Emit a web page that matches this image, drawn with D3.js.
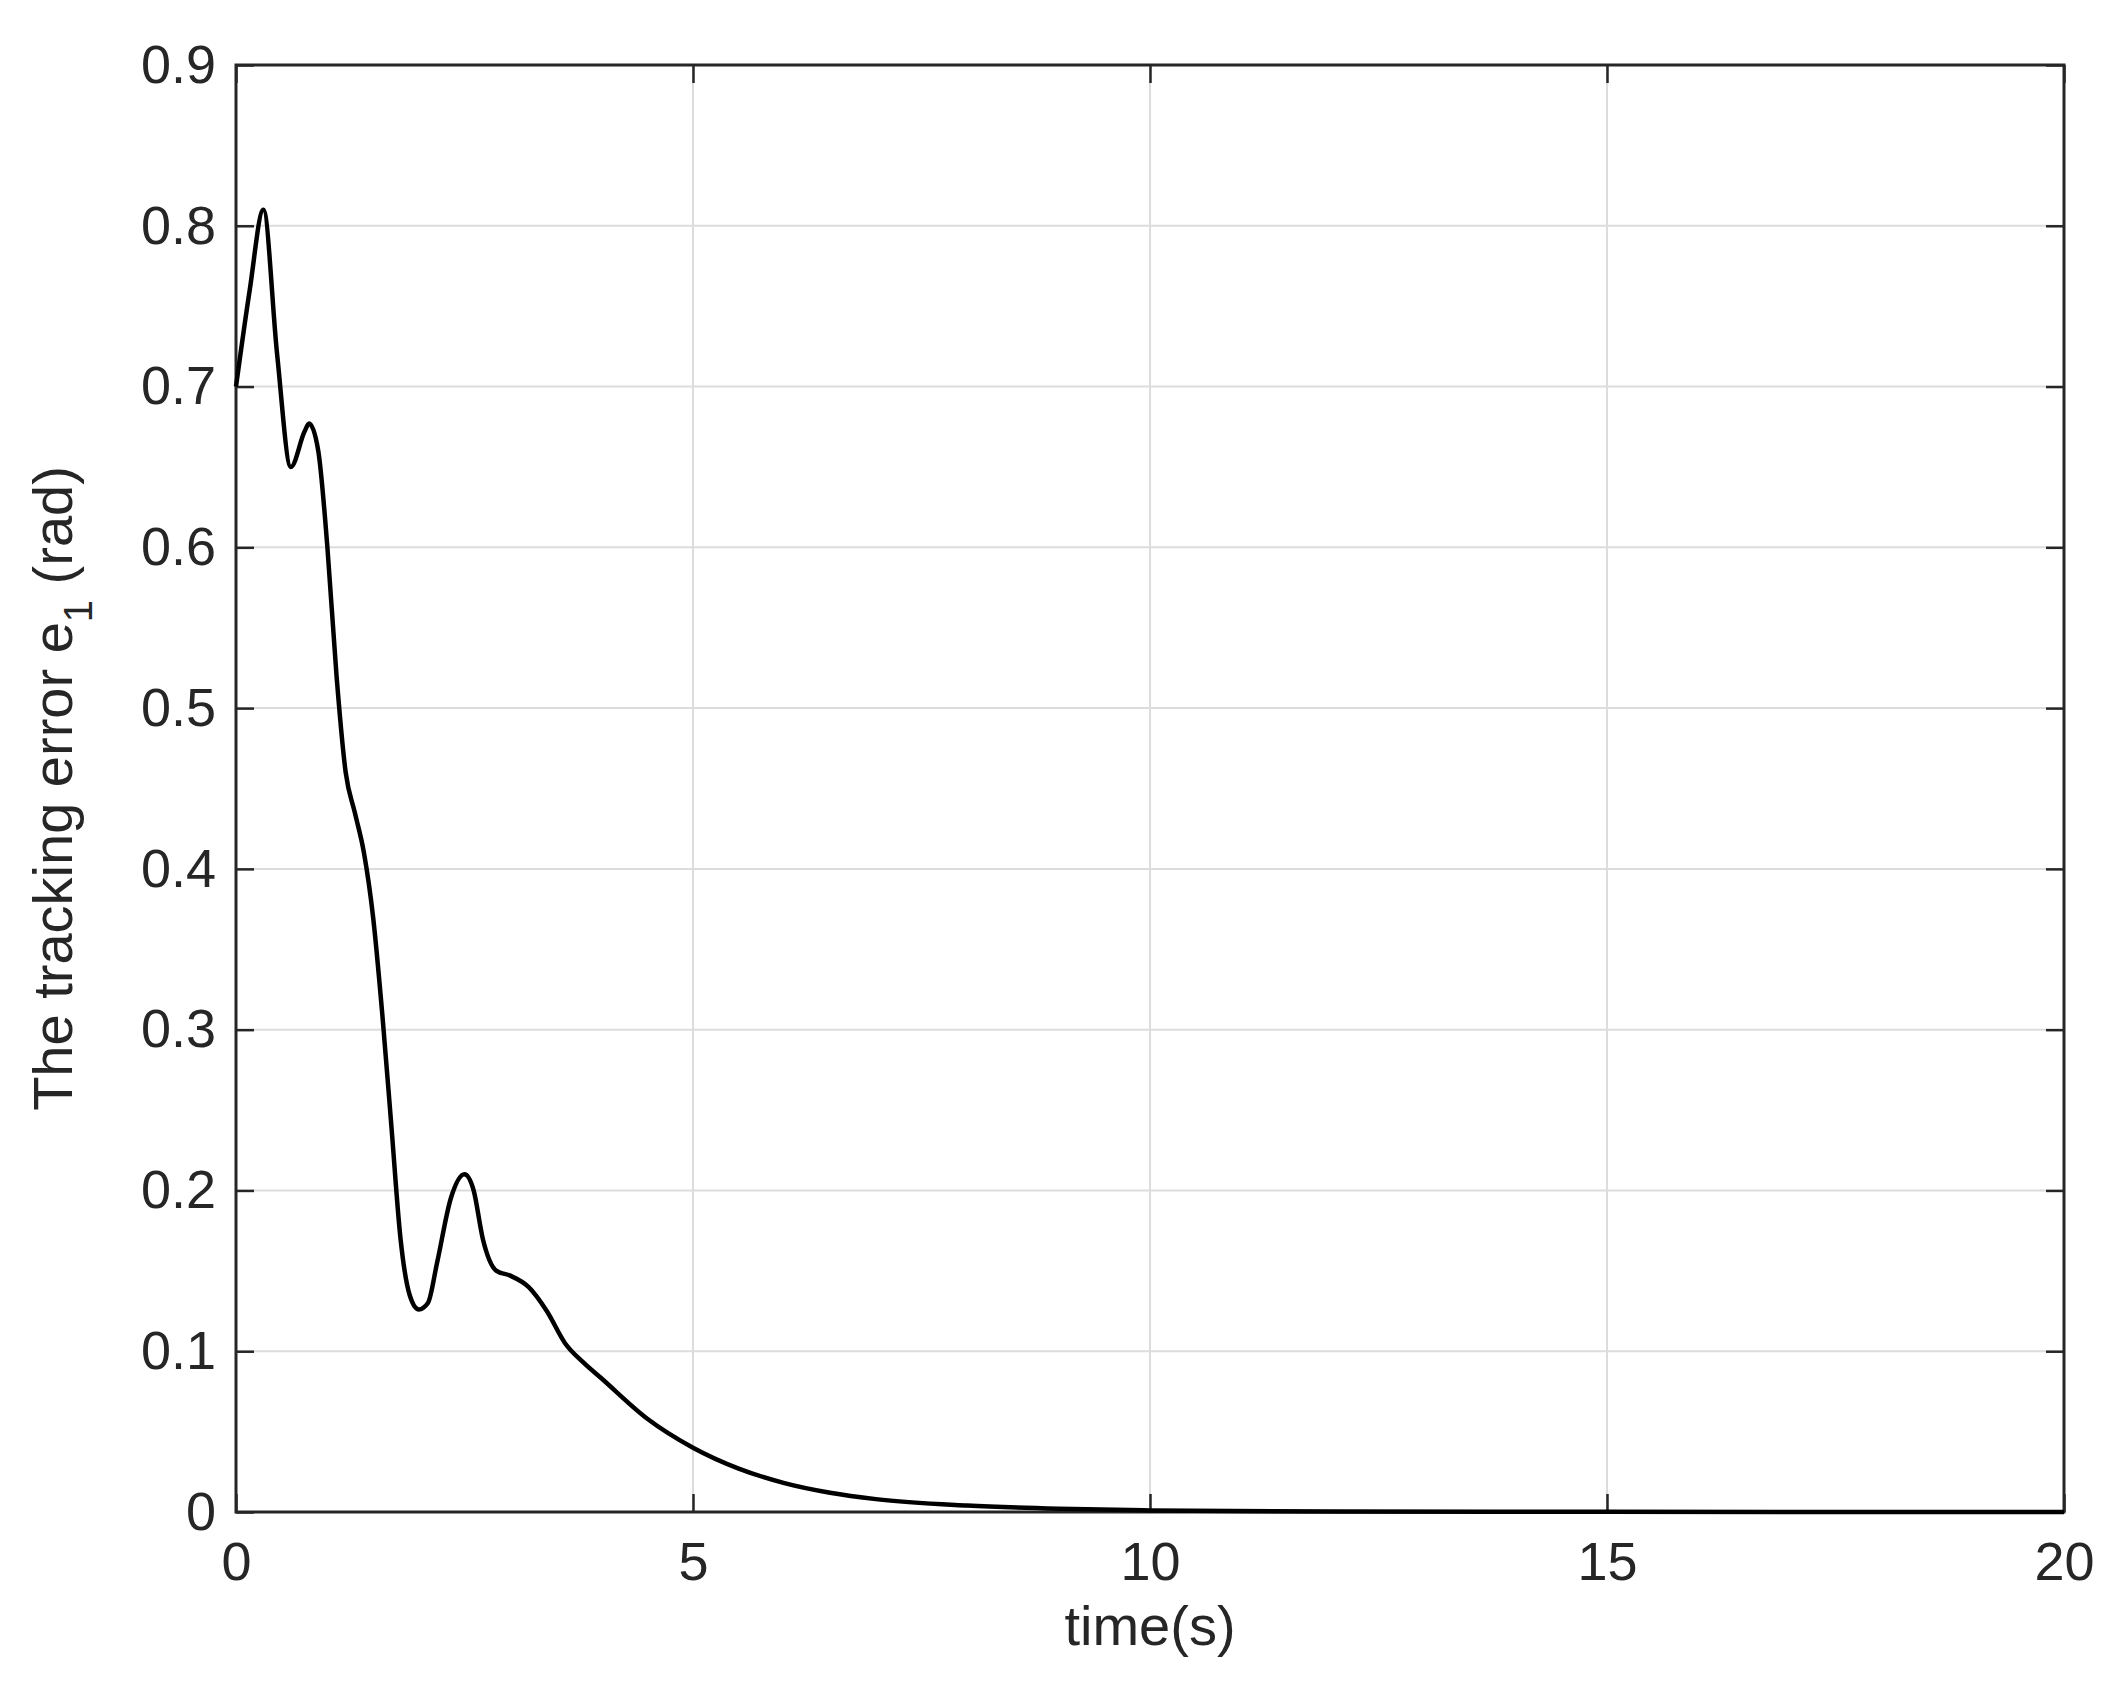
<!DOCTYPE html>
<html><head><meta charset="utf-8">
<script src="https://cdn.jsdelivr.net/npm/d3@7"></script>
<style>body{margin:0;background:#fff}text{font-family:"Liberation Sans",Arial,sans-serif;fill:#262626}</style>
</head><body><svg id="c" width="2117" height="1705"></svg>
<script>
const timeValues=[0,0.15,0.3,0.45,0.6,0.75,0.8,0.9,1.0,1.1,1.2,1.3,1.4,1.5,1.6,1.7,1.8,1.9,2.0,2.1,2.2,2.35,2.5,2.6,2.7,2.85,3.0,3.2,3.4,3.6,3.8,4.0,4.5,5,5.5,6,6.5,7,8,9,10,12,15,20];
const errorValues=[0.70,0.76,0.81,0.72,0.65,0.672,0.677,0.66,0.6,0.52,0.46,0.435,0.41,0.37,0.31,0.24,0.17,0.135,0.126,0.13,0.155,0.195,0.21,0.2,0.17,0.15,0.147,0.14,0.125,0.105,0.093,0.083,0.058,0.04,0.027,0.018,0.012,0.008,0.004,0.002,0.001,0.0003,0.0001,0];
const xTicks=[0,5,10,15,20];
const yTicks=[0,0.1,0.2,0.3,0.4,0.5,0.6,0.7,0.8,0.9];
const L=236,R=2064,T=65,B=1512;
const svg=d3.select("#c");
const x=d3.scaleLinear().domain([0,20]).range([L,R]);
const y=d3.scaleLinear().domain([0,0.9]).range([B,T]);
const g=svg.append("g");
g.selectAll(".gx").data(xTicks).join("line").attr("x1",d=>x(d)).attr("x2",d=>x(d)).attr("y1",T).attr("y2",B).attr("stroke","#dcdcdc").attr("stroke-width",2);
g.selectAll(".gy").data(yTicks).join("line").attr("y1",d=>y(d)).attr("y2",d=>y(d)).attr("x1",L).attr("x2",R).attr("stroke","#dcdcdc").attr("stroke-width",2);
const ax=d3.axisBottom(x).tickValues(xTicks).tickSize(-18).tickPadding(30).tickFormat(d3.format("d"));
const ay=d3.axisLeft(y).tickValues(yTicks).tickSize(-18).tickPadding(20).tickFormat(d=>d===0?"0":d3.format(".1f")(d));
const axt=d3.axisTop(x).tickValues(xTicks).tickSize(-18).tickFormat("");
const ayr=d3.axisRight(y).tickValues(yTicks).tickSize(-18).tickFormat("");
[[ax,`translate(0,${B})`],[ay,`translate(${L},0)`],[axt,`translate(0,${T})`],[ayr,`translate(${R},0)`]].forEach(([a,t])=>{
 const s=svg.append("g").attr("transform",t).call(a);
 s.select(".domain").remove();
 s.selectAll("line").attr("stroke","#262626").attr("stroke-width",2.5);
 s.selectAll("text").attr("font-size",54).attr("fill","#262626").style("font-family","Liberation Sans, Arial, sans-serif");
});
svg.append("rect").attr("x",L).attr("y",T).attr("width",R-L).attr("height",B-T).attr("fill","none").attr("stroke","#262626").attr("stroke-width",3);
const line=d3.line().x((d,i)=>x(timeValues[i])).y(d=>y(d)).curve(d3.curveMonotoneX);
svg.append("path").datum(errorValues).attr("d",line).attr("fill","none").attr("stroke","#000").attr("stroke-width",4.5);
svg.append("text").attr("x",(L+R)/2).attr("y",1645).attr("text-anchor","middle").attr("font-size",56).text("time(s)");
const yl=svg.append("text").attr("transform",`translate(72,${(T+B)/2}) rotate(-90)`).attr("text-anchor","middle").attr("font-size",56);
yl.append("tspan").text("The tracking error e");
yl.append("tspan").attr("font-size",40).attr("dy",20).text("1");
yl.append("tspan").attr("dy",-20).text(" (rad)");
</script></body></html>
